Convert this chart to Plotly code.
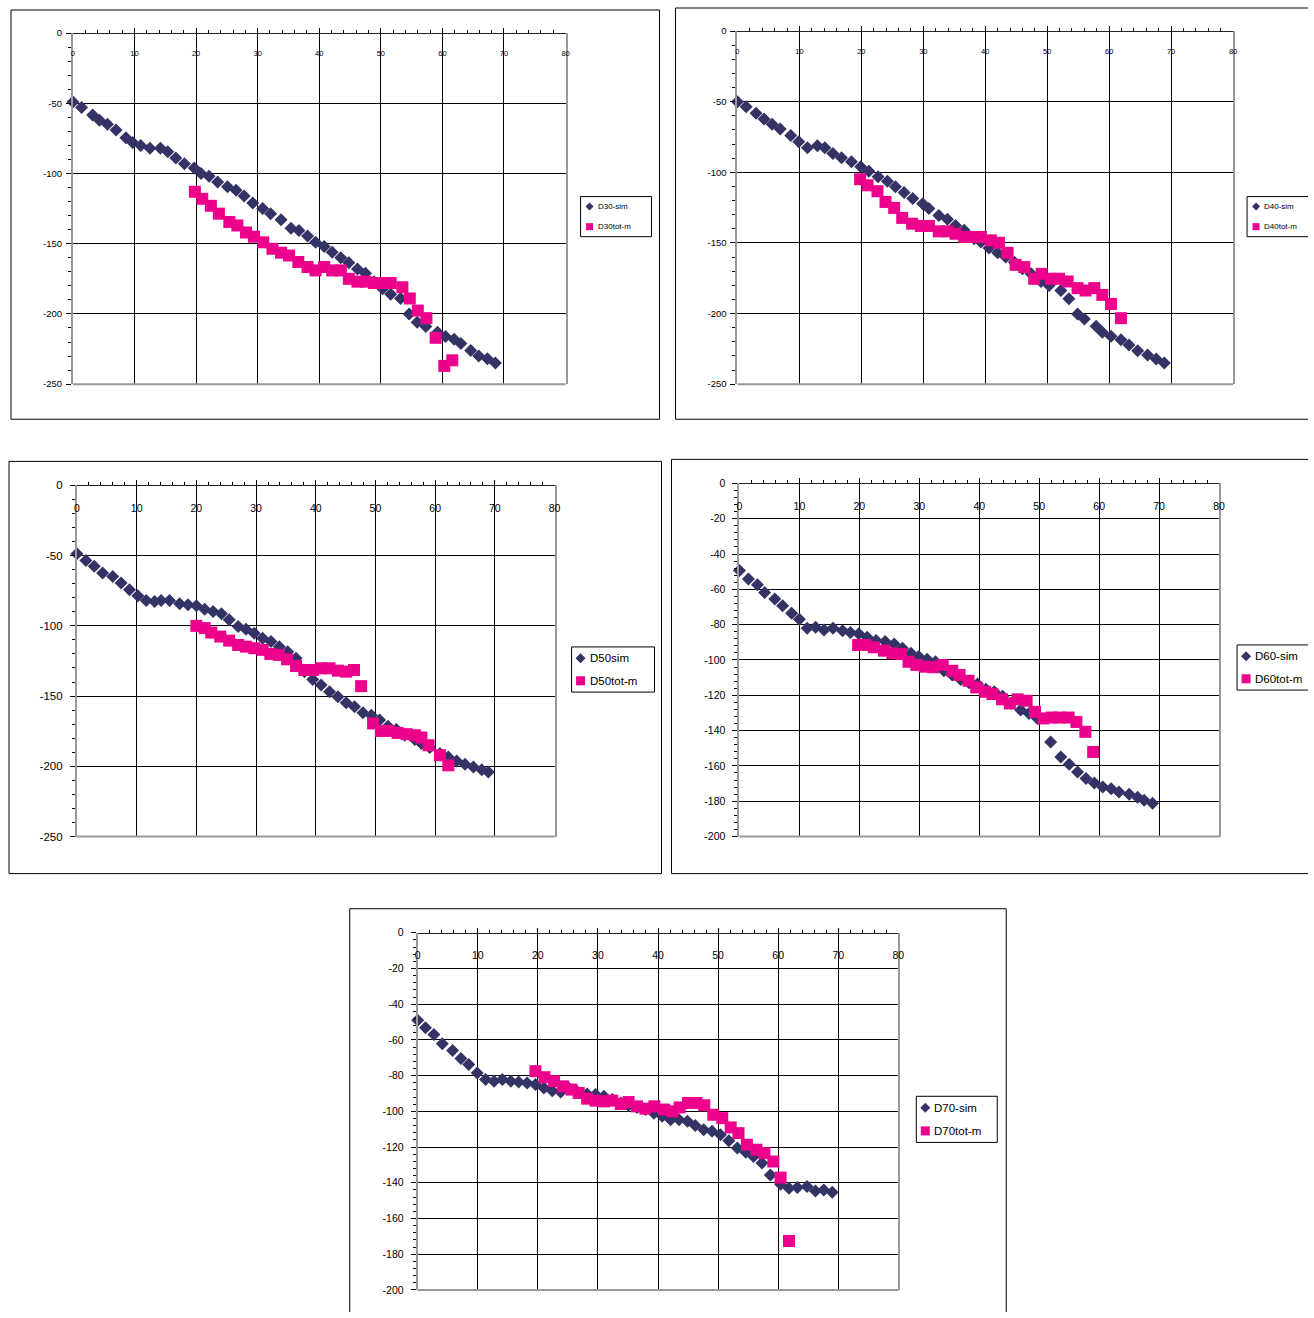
import plotly.graph_objects as go

W, H = 1314, 1318
FONT = "Liberation Sans, Arial, sans-serif"
SIM_COLOR = "#333366"
M_COLOR = "#EC008C"

# ---------------- data ----------------
d30_sim_x = [0, 1.4, 3.2, 4.3, 5.6, 7.0, 8.6, 9.7, 11.0, 12.5, 14.2, 15.4, 16.7, 18.1, 19.7, 20.8, 22.1, 23.5, 25.1, 26.5,
             27.8, 29.2, 30.8, 32.1, 33.8, 35.4, 36.7, 38.1, 39.4, 40.8, 42.1, 43.5, 44.8, 46.2, 47.5, 48.9, 50.3, 51.6,
             53.2, 54.6, 55.9, 57.3, 59.2, 60.5, 61.9, 63.0, 64.6, 65.9, 67.3, 68.6]
d30_sim_y = [-49, -53, -58.4, -62, -65, -69, -74.5, -78, -80, -82, -82, -84.5, -89, -93, -96, -100, -102, -106, -109.5,
             -112, -116, -121, -125, -128.6, -133, -139, -140.5, -144.5, -149, -152, -156, -160, -163.6, -168, -171,
             -177, -182, -186, -189, -200, -206, -209, -213, -216, -218, -221, -226, -230, -232, -235]
d30_m_x = [19.8, 21.0, 22.4, 23.7, 25.4, 26.7, 28.1, 29.4, 30.9, 32.4, 33.8, 35.1, 36.6, 38.1, 39.4, 40.8, 42.1, 43.5,
           44.8, 46.2, 47.5, 48.9, 50.3, 51.6, 53.5, 54.7, 56.0, 57.4, 58.9, 60.3, 61.6]
d30_m_y = [-113, -118, -123, -128.6, -134.5, -137, -142, -145, -149, -153.6, -156.4, -158.4, -163, -166.6, -169, -166.6,
           -169, -169, -175, -177, -177, -178, -178, -178, -181, -189, -197.6, -203, -217, -237, -233]

d40_sim_x = [0, 1.4, 3.0, 4.3, 5.6, 6.9, 8.6, 9.9, 11.3, 12.9, 14.1, 15.4, 16.8, 18.4, 19.9, 21.2, 22.7, 24.2, 25.5, 26.9,
             28.3, 29.9, 30.9, 32.5, 33.9, 35.2, 36.6, 38.2, 39.3, 40.6, 42.0, 43.3, 44.7, 46.0, 47.4, 49.0, 50.3, 52.2,
             53.5, 54.9, 56.0, 57.9, 58.9, 60.3, 61.9, 63.2, 64.6, 66.2, 67.6, 68.9]
d40_sim_y = [-50, -53.5, -58.2, -62.3, -66, -69.4, -74, -78.3, -82.6, -81.2, -82.6, -86.6, -89.7, -92.5, -96, -99.2,
             -103.2, -106.3, -110.3, -114.3, -118.6, -122.2, -125.7, -130.5, -133.3, -137.6, -141.1, -147, -149.4,
             -153.6, -157, -160, -163.6, -168.3, -171.9, -177.3, -180.2, -183.7, -189.6, -200.3, -203.8, -209, -213.3,
             -216.1, -218.5, -222.3, -226.3, -229.4, -232.2, -235]
d40_m_x = [19.8, 21.0, 22.6, 23.9, 25.3, 26.6, 28.2, 29.6, 30.9, 32.5, 33.9, 35.2, 36.6, 37.9, 39.3, 40.9, 42.2, 43.6,
           44.9, 46.3, 47.9, 49.1, 50.6, 51.9, 53.3, 54.9, 56.2, 57.6, 58.9, 60.3, 61.9]
d40_m_y = [-104.9, -109.2, -113.4, -121, -125.2, -132.3, -136.4, -138, -138, -141.8, -141.8, -143.5, -145.8, -145.8,
           -145.8, -148.2, -149.9, -157, -165.5, -167.1, -175.4, -171.9, -175.4, -175.4, -177.3, -182, -183.7, -182,
           -186.8, -193.2, -203.3]

d50_sim_x = [0, 1.5, 2.9, 4.3, 6.0, 7.4, 8.8, 10.2, 11.6, 13.0, 14.1, 15.5, 17.2, 18.6, 20.0, 21.4, 22.8, 24.2, 25.5,
             27.0, 28.3, 29.7, 31.1, 32.5, 33.9, 35.3, 36.7, 38.1, 39.5, 40.9, 42.3, 43.7, 45.1, 46.5, 47.9, 49.3, 50.7,
             52.1, 53.5, 54.9, 56.6, 57.7, 59.1, 60.8, 62.2, 63.6, 65.0, 66.4, 67.8, 68.9]
d50_sim_y = [-48.6, -53.4, -57.6, -62.4, -64.8, -69.5, -74.3, -78.6, -81.9, -82.6, -81.9, -81.9, -84.3, -85, -85.7,
             -88.1, -89.8, -91.4, -95.7, -100.5, -102.4, -105.2, -108.8, -111.2, -114.8, -118.4, -123.1, -132.6, -138.1,
             -142.1, -146.9, -150.5, -154.8, -157.6, -161.9, -163.6, -167.1, -171.4, -173.8, -177.9, -180.9, -183.8,
             -186.6, -190.9, -193.4, -196.2, -198.6, -200.5, -202.4, -204.1]
d50_m_x = [20.0, 21.4, 22.5, 24.0, 25.5, 27.0, 28.3, 29.7, 31.1, 32.4, 33.8, 35.2, 36.7, 38.1, 39.5, 40.9, 42.3, 43.7,
           45.1, 46.4, 47.6, 49.6, 50.9, 52.2, 53.7, 55.2, 56.6, 57.7, 58.9, 60.8, 62.2]
d50_m_y = [-100, -101.6, -104.8, -107.6, -110.5, -113.6, -114.8, -115.9, -117.1, -120, -120.7, -123.8, -128.6, -131.4,
           -131.4, -130.2, -130.2, -131.9, -132.6, -131.4, -142.9, -169.5, -174.8, -174.8, -176.2, -177.1, -177.9,
           -179.5, -185, -192.1, -199.3]

d60_sim_x = [0, 1.5, 3.0, 4.2, 5.9, 7.2, 8.7, 10.0, 11.3, 12.7, 14.1, 15.6, 17.2, 18.5, 19.9, 21.3, 22.8, 24.3, 25.8,
             27.2, 28.6, 29.9, 31.3, 32.7, 34.1, 35.5, 36.9, 38.3, 39.7, 41.1, 42.5, 43.9, 45.3, 46.9, 48.3, 49.7, 51.9,
             53.6, 55.0, 56.4, 57.8, 59.2, 60.6, 62.0, 63.3, 65.0, 66.4, 67.5, 68.9]
d60_sim_y = [-49.3, -54.1, -57.4, -61.8, -65.5, -69.3, -73.5, -76.9, -82, -81.4, -83, -82, -83.4, -84.5, -85.2, -87.1,
             -89, -89.6, -90.9, -93.4, -96.2, -98.1, -99.6, -101, -106.1, -108.5, -111, -112.9, -113.6, -116.6, -118,
             -120.5, -124.6, -128.4, -130.3, -133.1, -146.4, -154.9, -159.1, -163.5, -167.2, -169.7, -172, -172.9,
             -174.8, -176.1, -177.7, -179.5, -181.1]
d60_m_x = [19.8, 21.0, 22.4, 24.1, 25.5, 26.9, 28.2, 29.5, 30.9, 32.3, 33.9, 35.5, 36.7, 38.2, 39.5, 41.0, 42.2, 43.8,
           45.1, 46.4, 47.9, 49.3, 50.7, 52.1, 53.4, 54.9, 56.2, 57.7, 59.0]
d60_m_y = [-91.5, -91.5, -92.8, -94.7, -96.2, -96.6, -101, -102.8, -103.8, -104.1, -102.8, -106.1, -108.5, -111.8,
           -115.5, -118, -119.3, -122.3, -124.6, -122.3, -123.1, -129.4, -133.1, -132.6, -132.6, -132.6, -135.1,
           -140.7, -152.1]

d70_sim_x = [0, 1.3, 2.7, 4.1, 5.8, 7.2, 8.5, 9.9, 11.3, 12.7, 14.1, 15.5, 16.8, 18.2, 19.6, 21.0, 22.4, 23.8, 25.2,
             26.6, 28.2, 29.6, 31.0, 32.4, 33.8, 35.1, 36.5, 37.9, 39.3, 40.7, 42.1, 43.5, 44.9, 46.2, 47.6, 49.0, 50.4,
             51.8, 53.2, 54.6, 55.9, 57.3, 58.7, 60.4, 61.8, 63.2, 64.8, 66.2, 67.6, 69.0]
d70_sim_y = [-49, -53.2, -56.9, -62.2, -65.9, -70.4, -73.8, -78.5, -82.2, -83.1, -82.2, -83.1, -83.5, -84.1, -85, -86.9,
             -88.4, -89.2, -87.2, -89.2, -90.3, -90.6, -91.6, -93.4, -95.3, -96.6, -97.8, -99, -101, -102.8, -104.7,
             -104.7, -105.6, -107.9, -110.3, -111.2, -113.1, -116.5, -120.6, -122.9, -125.3, -129, -135.6, -140.8,
             -143.1, -142.7, -142.1, -144.6, -144, -145.3]
d70_m_x = [19.6, 21.1, 22.7, 24.2, 25.6, 26.8, 28.2, 29.6, 31.0, 32.4, 33.8, 35.1, 36.5, 37.9, 39.4, 41.0, 42.4, 43.6,
           45.0, 46.4, 47.7, 49.2, 50.7, 52.1, 53.4, 54.8, 56.4, 57.7, 59.2, 60.4, 61.8]
d70_m_y = [-77.5, -80.9, -83.1, -86, -87.8, -89.7, -92.9, -94, -94.4, -94, -95.9, -94.8, -97.2, -98.5, -97.2, -99, -100,
           -97.8, -95.3, -95.3, -96.6, -101.9, -103.8, -109, -112.2, -118.7, -121.5, -123.4, -128.1, -137.1, -172.6]

sim_names = ["D30-sim", "D40-sim", "D50sim", "D60-sim", "D70-sim"]
m_names = ["D30tot-m", "D40tot-m", "D50tot-m", "D60tot-m", "D70tot-m"]

x_tick_vals = [0, 10, 20, 30, 40, 50, 60, 70, 80]
x_tick_text = ["0", "10", "20", "30", "40", "50", "60", "70", "80"]
y250_tick_vals = [0, -50, -100, -150, -200, -250]
y250_tick_text = ["0", "-50", "-100", "-150", "-200", "-250"]
y200_tick_vals = [0, -20, -40, -60, -80, -100, -120, -140, -160, -180, -200]
y200_tick_text = ["0", "-20", "-40", "-60", "-80", "-100", "-120", "-140", "-160", "-180", "-200"]

# ---------------- layout geometry (target pixels in the picture) ----------------
panels = [
    dict(sx=d30_sim_x, sy=d30_sim_y, mx=d30_m_x, my=d30_m_y, ymin=-250, yt=(y250_tick_vals, y250_tick_text), ymdt=10,
         plot=(72, 35, 565, 385), box=(10, 12, 659, 420), leg=(580, 198, 651, 238),
         xf=7.5, yf=9.5, lf=8, ms=4, ystand=2),
    dict(sx=d40_sim_x, sy=d40_sim_y, mx=d40_m_x, my=d40_m_y, ymin=-250, yt=(y250_tick_vals, y250_tick_text), ymdt=10,
         plot=(737, 33, 1233, 385), box=(675, 10, 1400, 420), leg=(1247, 198, 1312, 238),
         xf=7.5, yf=9.5, lf=8, ms=4, ystand=2),
    dict(sx=d50_sim_x, sy=d50_sim_y, mx=d50_m_x, my=d50_m_y, ymin=-250, yt=(y250_tick_vals, y250_tick_text), ymdt=10,
         plot=(76, 486, 554, 836), box=(8, 462, 661, 873), leg=(571, 647, 654, 692),
         xf=10.5, yf=11.5, lf=11.5, ms=5, ystand=5),
    dict(sx=d60_sim_x, sy=d60_sim_y, mx=d60_m_x, my=d60_m_y, ymin=-200, yt=(y200_tick_vals, y200_tick_text), ymdt=4,
         plot=(739, 484, 1219, 836), box=(671, 460, 1400, 873), leg=(1237, 645, 1400, 690),
         xf=10.5, yf=10.5, lf=11.5, ms=5, ystand=5),
    dict(sx=d70_sim_x, sy=d70_sim_y, mx=d70_m_x, my=d70_m_y, ymin=-200, yt=(y200_tick_vals, y200_tick_text), ymdt=4,
         plot=(417, 932, 898, 1288), box=(349, 908, 1006, 1400), leg=(916, 1095, 997, 1141),
         xf=10.5, yf=10.5, lf=11.5, ms=5, ystand=5),
]

# picture pixel -> paper fraction (the page is photographed slightly inset)
OX, SX, OY, SY = 2.0, 0.9939, 8.0, 0.9879


def px(x):
    return min(max((x - OX) / SX / W, 0.0), 1.0)


def py(y):
    return min(max(1 - (y - OY) / SY / H, 0.0), 1.0)


def open_box(x0, y0, x1, y1, color="#000", width=1, fill=None):
    """Box drawn side by side; sides that fall beyond the page are left out (cut off in the original)."""
    out = []
    if fill:
        out.append(dict(type="rect", xref="paper", yref="paper", x0=px(x0), x1=px(x1), y0=py(y1), y1=py(y0),
                        fillcolor=fill, line=dict(width=0), layer="above"))
    segs = [((x0, y0), (x1, y0)), ((x0, y0), (x0, y1))]
    if px(x1) < 1.0:
        segs.append(((x1, y0), (x1, y1)))
    if py(y1) > 0.0:
        segs.append(((x0, y1), (x1, y1)))
    for (a, b), (c, d) in segs:
        out.append(dict(type="line", xref="paper", yref="paper", x0=px(a), y0=py(b), x1=px(c), y1=py(d),
                        line=dict(color=color, width=width), layer="above" if fill else "below"))
    return out


fig = go.Figure()
layout = dict(width=W, height=H, margin=dict(l=0, r=0, t=0, b=0), paper_bgcolor="white",
              plot_bgcolor="white", showlegend=False)
shapes = []
annotations = []

for i, p in enumerate(panels, start=1):
    sfx = "" if i == 1 else str(i)
    xr, yr = "x" + sfx, "y" + sfx
    x0, y0, x1, y1 = p["plot"]

    # outer chart box
    shapes += open_box(*p["box"])
    # bottom border of plot area
    shapes.append(dict(type="line", xref="paper", yref="paper", x0=px(x0), x1=px(x1),
                       y0=py(y1), y1=py(y1), line=dict(color="#999", width=2), layer="above"))

    fig.add_trace(go.Scatter(x=p["sx"], y=p["sy"], mode="markers", name=sim_names[i - 1],
                             marker=dict(symbol="diamond", size=10, color=SIM_COLOR),
                             xaxis=xr, yaxis=yr, cliponaxis=False))
    fig.add_trace(go.Scatter(x=p["mx"], y=p["my"], mode="markers", name=m_names[i - 1],
                             marker=dict(symbol="square", size=12, color=M_COLOR),
                             xaxis=xr, yaxis=yr, cliponaxis=False))

    ymin = p["ymin"]
    minor_y = [v for v in range(0, ymin - 1, -p["ymdt"])]
    layout["xaxis" + sfx] = dict(
        domain=[px(x0), px(x1)], range=[0, 80], anchor="free", position=py(y0), side="bottom",
        tickmode="array", tickvals=x_tick_vals, ticktext=x_tick_text,
        ticks="inside", ticklen=5, tickcolor="#000", tickwidth=1,
        minor=dict(tickvals=list(range(0, 81, 2)), ticks="inside", ticklen=3, tickcolor="#000", showgrid=False),
        showgrid=True, gridcolor="#000", gridwidth=1, zeroline=False,
        showline=True, linecolor="#222", linewidth=1,
        tickfont=dict(family=FONT, size=p["xf"], color="#000"), ticklabelstandoff=13,
    )
    layout["yaxis" + sfx] = dict(
        domain=[py(y1), py(y0)], range=[ymin, 0], anchor=xr,
        tickmode="array", tickvals=p["yt"][0], ticktext=p["yt"][1],
        ticks="outside", ticklen=5, tickcolor="#000", tickwidth=1,
        minor=dict(tickvals=minor_y, ticks="outside", ticklen=3, tickcolor="#000", showgrid=False),
        showgrid=True, gridcolor="#000", gridwidth=1, zeroline=False,
        showline=True, linecolor="#999", linewidth=2, mirror=True,
        tickfont=dict(family=FONT, size=p["yf"], color="#000"), ticklabelstandoff=p["ystand"],
    )

    # legend box (drawn like the Excel legend)
    lx0, ly0, lx1, ly1 = p["leg"]
    shapes += open_box(lx0, ly0, lx1, ly1, fill="white")
    r = p["ms"]
    hgt = ly1 - ly0
    cy1 = ly0 + hgt * 0.25
    cy2 = ly0 + hgt * 0.75
    cx = lx0 + 9
    shapes.append(dict(type="path", xref="paper", yref="paper",
                       path=f"M {px(cx - r)},{py(cy1)} L {px(cx)},{py(cy1 - r)} L {px(cx + r)},{py(cy1)} "
                            f"L {px(cx)},{py(cy1 + r)} Z",
                       fillcolor=SIM_COLOR, line=dict(width=0), layer="above"))
    shapes.append(dict(type="rect", xref="paper", yref="paper", x0=px(cx - r + 0.5), x1=px(cx + r - 0.5),
                       y0=py(cy2 + r - 0.5), y1=py(cy2 - r + 0.5),
                       fillcolor=M_COLOR, line=dict(width=0), layer="above"))
    for txt, cyy in ((sim_names[i - 1], cy1), (m_names[i - 1], cy2)):
        annotations.append(dict(text=txt, xref="paper", yref="paper", x=px(cx + r + 2), y=py(cyy),
                                xanchor="left", yanchor="middle", showarrow=False,
                                font=dict(family=FONT, size=p["lf"], color="#000")))

layout["shapes"] = shapes
layout["annotations"] = annotations
fig.update_layout(**layout)
fig.write_html("out.html", config={"displayModeBar": False},
               post_script="document.body.style.margin='0';document.body.style.overflow='hidden';")
